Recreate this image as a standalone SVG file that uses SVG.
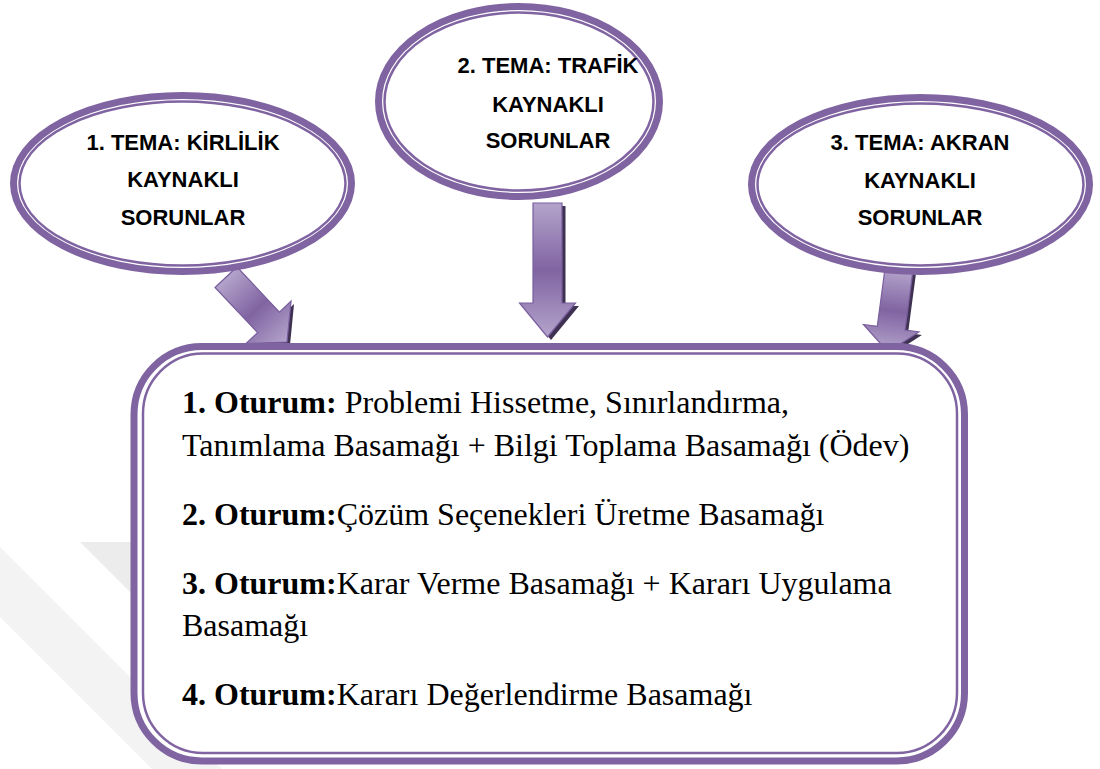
<svg xmlns="http://www.w3.org/2000/svg" width="1100" height="769" viewBox="0 0 1100 769">
<defs>
<linearGradient id="ag" x1="0" y1="0" x2="0" y2="1">
<stop offset="0" stop-color="#b4a4cb"/>
<stop offset="0.5" stop-color="#8064a2"/>
<stop offset="1" stop-color="#b4a4cb"/>
</linearGradient>
<style>
.thick{fill:none;stroke:#8064a2;stroke-width:7}
.thin{fill:none;stroke:#8064a2;stroke-width:2.5}
.bg{fill:#ffffff;stroke:none}
.tt{font-family:"Liberation Sans",Arial,sans-serif;font-weight:bold;font-size:22px;fill:#000;text-anchor:middle}
.bt{font-family:"Liberation Serif","Times New Roman",serif;font-size:32px;fill:#000}
.b{font-weight:bold}
.arr{fill:url(#ag);stroke:#7a5e9e;stroke-width:1.2}
.sh{fill:#3f3151}
</style>
</defs>
<rect width="1100" height="769" fill="#ffffff"/>
<g id="watermark">
<polygon points="0,547 222,769 152,769 0,617" fill="#f3f3f3"/>
<polygon points="80,542 220,542 220,682" fill="#ececec"/>
</g>
<g id="connectors">
<g id="arrow1">
<path class="sh" transform="translate(290,345) rotate(-43.3)" d="M-15,-89H15V-27H31L0,0L-31,-27H-15Z"/>
<path class="arr" transform="translate(287,342) rotate(-43.3)" d="M-15,-89H15V-27H31L0,0L-31,-27H-15Z"/>
</g>
<g id="arrow2">
<path class="sh" transform="translate(551,340)" d="M-14.5,-134H14.5V-34H28L0,0L-28,-34H-14.5Z"/>
<path class="arr" transform="translate(547.5,337)" d="M-14.5,-134H14.5V-34H28L0,0L-28,-34H-14.5Z"/>
</g>
<g id="arrow3">
<path class="sh" transform="translate(891,355) rotate(7.6)" d="M-14,-83H14V-24H28L0,0L-28,-24H-14Z"/>
<path class="arr" transform="translate(888,352) rotate(7.6)" d="M-14,-83H14V-24H28L0,0L-28,-24H-14Z"/>
</g>
</g>
<g id="tema1">
<ellipse class="bg" cx="182.5" cy="183.5" rx="170" ry="89"/>
<ellipse class="thick" cx="182.5" cy="183.5" rx="169" ry="88"/>
<ellipse class="thin" cx="182.5" cy="183.5" rx="163" ry="82"/>
<text class="tt" x="183" y="150">1. TEMA: KİRLİLİK</text>
<text class="tt" x="183" y="187">KAYNAKLI</text>
<text class="tt" x="183" y="225">SORUNLAR</text>
</g>
<g id="tema2">
<ellipse class="bg" cx="519" cy="101.5" rx="141" ry="96"/>
<ellipse class="thick" cx="519" cy="101.5" rx="140.5" ry="95"/>
<ellipse class="thin" cx="519" cy="101.5" rx="134.5" ry="89"/>
<text class="tt" x="548" y="73">2. TEMA: TRAFİK</text>
<text class="tt" x="548" y="112">KAYNAKLI</text>
<text class="tt" x="548" y="148">SORUNLAR</text>
</g>
<g id="tema3">
<ellipse class="bg" cx="920.5" cy="184.5" rx="170" ry="88"/>
<ellipse class="thick" cx="920.5" cy="184.5" rx="169" ry="87"/>
<ellipse class="thin" cx="920.5" cy="184.5" rx="163" ry="81"/>
<text class="tt" x="920" y="150">3. TEMA: AKRAN</text>
<text class="tt" x="920" y="188">KAYNAKLI</text>
<text class="tt" x="920" y="225">SORUNLAR</text>
</g>
<g id="oturumlar">
<rect class="bg" x="134" y="346.5" width="830.5" height="414.5" rx="68"/>
<rect class="thick" x="134" y="346.5" width="830.5" height="414.5" rx="68"/>
<rect class="thin" x="143" y="353.5" width="814" height="399.5" rx="60"/>
<text class="bt" x="182" y="413"><tspan class="b">1. Oturum:</tspan> Problemi Hissetme, Sınırlandırma,</text>
<text class="bt" x="182" y="456">Tanımlama Basamağı + Bilgi Toplama Basamağı (Ödev)</text>
<text class="bt" x="182" y="525"><tspan class="b">2. Oturum:</tspan>Çözüm Seçenekleri Üretme Basamağı</text>
<text class="bt" x="182" y="594"><tspan class="b">3. Oturum:</tspan>Karar Verme Basamağı + Kararı Uygulama</text>
<text class="bt" x="182" y="636">Basamağı</text>
<text class="bt" x="182" y="705"><tspan class="b">4. Oturum:</tspan>Kararı Değerlendirme Basamağı</text>
</g>
</svg>
